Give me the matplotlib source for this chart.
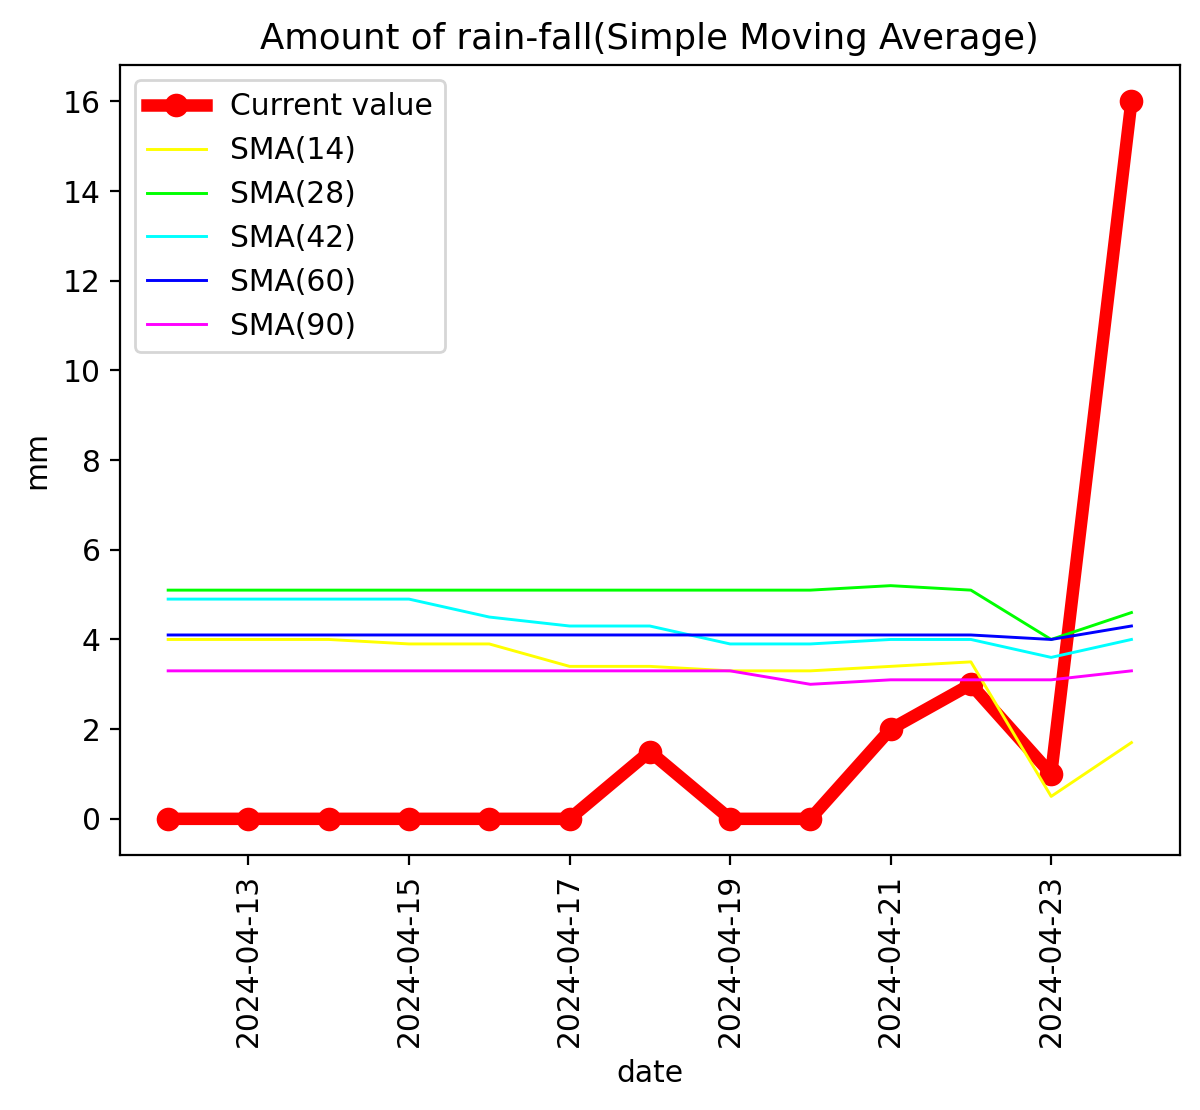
import matplotlib
matplotlib.use("Agg")
import matplotlib.pyplot as plt
import pandas as pd

# Daily rain-fall and its simple moving averages (mm)
dates = pd.date_range("2024-04-12", "2024-04-24", freq="D")
current = [0, 0, 0, 0, 0, 0, 1.5, 0, 0, 2, 3, 1, 16]
sma14 = [4.0, 4.0, 4.0, 3.9, 3.9, 3.4, 3.4, 3.3, 3.3, 3.4, 3.5, 0.5, 1.7]
sma28 = [5.1, 5.1, 5.1, 5.1, 5.1, 5.1, 5.1, 5.1, 5.1, 5.2, 5.1, 4.0, 4.6]
sma42 = [4.9, 4.9, 4.9, 4.9, 4.5, 4.3, 4.3, 3.9, 3.9, 4.0, 4.0, 3.6, 4.0]
sma60 = [4.1, 4.1, 4.1, 4.1, 4.1, 4.1, 4.1, 4.1, 4.1, 4.1, 4.1, 4.0, 4.3]
sma90 = [3.3, 3.3, 3.3, 3.3, 3.3, 3.3, 3.3, 3.3, 3.0, 3.1, 3.1, 3.1, 3.3]

plt.rcParams["font.size"] = 10.7

fig, ax = plt.subplots(figsize=(6, 5.55), dpi=200)
fig.subplots_adjust(left=0.1, right=0.983, top=0.941, bottom=0.23)

ax.plot(dates, current, color="red", linewidth=4.5, marker="o",
        markersize=7.5, label="Current value")
ax.plot(dates, sma14, color="#ffff00", linewidth=1.05, label="SMA(14)")
ax.plot(dates, sma28, color="#00ff00", linewidth=1.05, label="SMA(28)")
ax.plot(dates, sma42, color="#00ffff", linewidth=1.05, label="SMA(42)")
ax.plot(dates, sma60, color="#0000ff", linewidth=1.05, label="SMA(60)")
ax.plot(dates, sma90, color="#ff00ff", linewidth=1.05, label="SMA(90)")

ax.set_title("Amount of rain-fall(Simple Moving Average)", fontsize=12.8)
ax.set_xlabel("date")
ax.set_ylabel("mm")
ax.legend(loc="upper left", handlelength=2.0, labelspacing=0.5)
plt.setp(ax.get_xticklabels(), rotation=90)

fig.savefig("out.png")
